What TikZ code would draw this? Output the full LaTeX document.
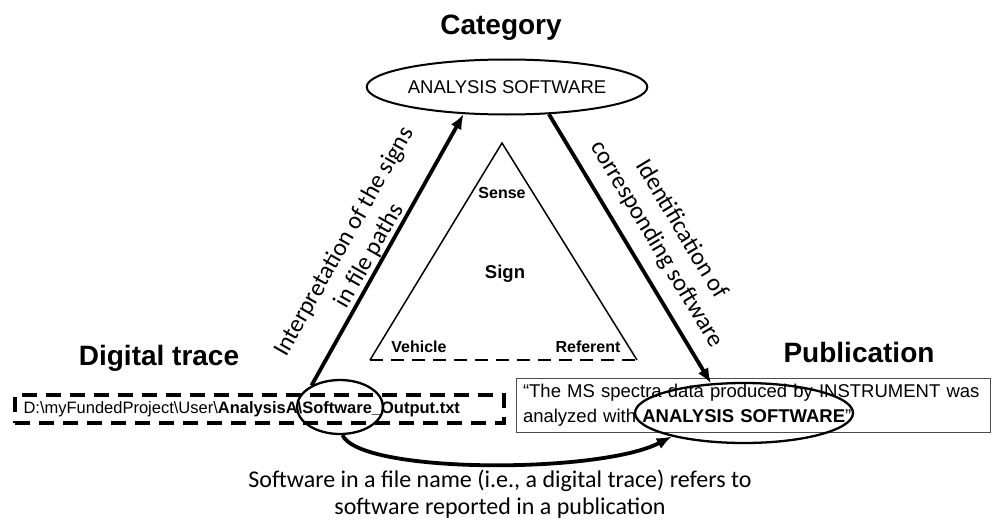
\documentclass[tikz,border=0pt]{standalone}
\usepackage{fontspec}
\setmainfont{Liberation Sans}
\newfontfamily\calib{Carlito}
\usetikzlibrary{arrows.meta,shapes.geometric}
\tikzset{
  title/.style={font=\fontsize{28}{32}\selectfont\bfseries, inner sep=0pt},
  lbl/.style={font=\fontsize{16}{19}\selectfont\bfseries, inner sep=0pt},
  rotlbl/.style={font=\calib\fontsize{24.5}{29}\selectfont, align=center, inner sep=0pt},
  ring/.style={draw, ellipse, inner sep=0pt, line width=2.3pt},
  bigarrow/.style={line width=3.8pt, -{Latex[length=15pt,width=12pt]}},
}
\begin{document}
\begin{tikzpicture}[x=1pt,y=-1pt]
\useasboundingbox (0,0) rectangle (992,527);

% titles
\node[title] (tcat) at (501,28) {Category};
\node[title] (tdig) at (159,358) {Digital trace};
\node[title] (tpub) at (859,352) {Publication};

% category ellipse
\node[draw, ellipse, line width=2pt, minimum width=272, minimum height=55, inner sep=0pt,
      font=\fontsize{18.5}{22}\selectfont] (as) at (507,87) {ANALYSIS SOFTWARE};

% inner triangle
\coordinate (ta) at (502,143);
\coordinate (tl) at (370,360);
\coordinate (tr) at (637,360);
\draw[line width=1.5pt, line join=miter] (tl) -- (ta) -- (tr);
\draw[line width=1.5pt, dash pattern=on 13pt off 8pt] (tl) -- (tr);
\node[lbl] (sense) at (502,193) {Sense};
\node[lbl, font=\fontsize{18.5}{22}\selectfont\bfseries] (sign) at (505,274) {Sign};
\node[lbl] (veh) at (419,347) {Vehicle};
\node[lbl] (ref) at (588,347) {Referent};

% digital trace box
\node[draw, line width=3.6pt, dash pattern=on 15pt off 9pt, minimum width=489, minimum height=28,
      text width=472, align=left, inner xsep=8.5pt, inner ysep=0pt,
      font=\fontsize{16.5}{19}\selectfont] (trace) at (259.5,409)
  {D:\textbackslash myFundedProject\textbackslash User\textbackslash\textbf{AnalysisA\textbackslash Software\_Output.txt}};
\node[ring, minimum width=86, minimum height=54] (sw) at (340,407) {};

% publication box
\node[draw, line width=1pt, draw=black!70, minimum width=474, minimum height=54,
      text width=460, align=left, inner xsep=7pt, inner ysep=0pt,
      font=\fontsize{18.5}{25}\selectfont] (pub) at (753,405)
  {``The MS spectra data produced by INSTRUMENT was\\ analyzed with \textbf{ANALYSIS SOFTWARE}''};
\node[ring, minimum width=218, minimum height=60] (aw) at (744,413) {};

% arrows
\draw[bigarrow] (sw.143) -- (as.212);
\draw[bigarrow] (as.-33) -- (aw.138);
\draw[bigarrow] (sw.-85) .. controls (360,474) and (600,474) .. (aw.198);

% rotated labels
\node[rotlbl, rotate=60.4] (lint) at (357,249) {Interpretation of the signs\\in file paths};
\node[rotlbl, rotate=-59] (lid) at (669,237) {Identification of\\corresponding software};

% caption
\node[font=\calib\fontsize{24}{27}\selectfont, align=center, inner sep=0pt] (cap) at (500,494)
  {Software in a file name (i.e., a digital trace) refers to\\software reported in a publication};
\end{tikzpicture}
\end{document}
